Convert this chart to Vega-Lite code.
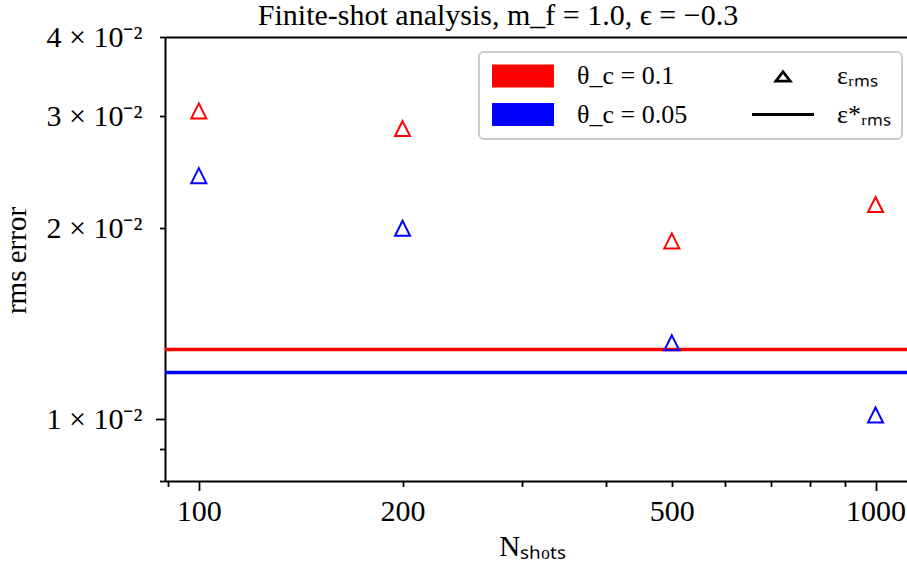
{
  "$schema": "https://vega.github.io/schema/vega-lite/v6.json",
  "width": 742,
  "height": 444,
  "autosize": {"type": "none"},
  "padding": {"left": 165, "top": 37, "right": 0, "bottom": 88},
  "background": "white",
  "title": {
    "text": "Finite-shot analysis, m_f = 1.0, ϵ = −0.3",
    "font": "Liberation Serif",
    "fontSize": 30,
    "fontWeight": "normal",
    "color": "black",
    "anchor": "middle",
    "frame": "group",
    "baseline": "alphabetic",
    "offset": -33,
    "dx": -38
  },
  "config": {
    "view": {"stroke": null},
    "font": "Liberation Serif",
    "axis": {
      "grid": false,
      "domainColor": "black",
      "domainWidth": 2,
      "tickColor": "black",
      "tickWidth": 1.8,
      "labelColor": "black",
      "labelFont": "Liberation Serif",
      "labelFontSize": 30,
      "labelFlush": false,
      "labelOverlap": false,
      "labelBound": false,
      "titleFont": "Liberation Serif",
      "titleFontSize": 29,
      "titleFontWeight": "normal",
      "titleColor": "black"
    },
    "legend": {
      "labelFont": "Liberation Serif",
      "labelFontSize": 26,
      "labelColor": "black",
      "labelLimit": 300
    }
  },
  "layer": [
    {
      "layer": [
        {
          "data": {
            "values": [
              {"theta": "θ_c = 0.1", "eps_star": 0.01289},
              {"theta": "θ_c = 0.05", "eps_star": 0.01186}
            ]
          },
          "mark": {"type": "rule", "strokeWidth": 3.5},
          "encoding": {
            "y": {
              "field": "eps_star",
              "type": "quantitative",
              "scale": {"type": "log", "domain": [0.008, 0.04], "nice": false},
              "axis": {
                "values": [0.008, 0.009, 0.01, 0.02, 0.03, 0.04],
                "labelExpr": "datum.value > 0.0095 ? format(datum.value * 100, '.0f') + ' × 10⁻²' : ''",
                "tickSize": {"condition": {"test": "datum.value == 0.01", "value": 9.5}, "value": 5.5},
                "labelPadding": {"condition": {"test": "datum.value == 0.01", "value": 13.5}, "value": 17.5},
                "title": "rms error",
                "titleX": -140,
                "titleY": 223,
                "titleAngle": 270,
                "titleAlign": "center",
                "titleBaseline": "alphabetic"
              }
            },
            "color": {
              "field": "theta",
              "type": "nominal",
              "scale": {"domain": ["θ_c = 0.1", "θ_c = 0.05"], "range": ["#ff0000", "#0000ff"]},
              "legend": null
            }
          }
        },
        {
          "data": {
            "values": [
              {"N": 100, "theta": "θ_c = 0.1", "eps": 0.0306},
              {"N": 200, "theta": "θ_c = 0.1", "eps": 0.0287},
              {"N": 500, "theta": "θ_c = 0.1", "eps": 0.0191},
              {"N": 1000, "theta": "θ_c = 0.1", "eps": 0.0218},
              {"N": 100, "theta": "θ_c = 0.05", "eps": 0.0242},
              {"N": 200, "theta": "θ_c = 0.05", "eps": 0.0200},
              {"N": 500, "theta": "θ_c = 0.05", "eps": 0.0132},
              {"N": 1000, "theta": "θ_c = 0.05", "eps": 0.01016}
            ]
          },
          "mark": {
            "type": "point",
            "shape": "M0,-1L1,1L-1,1Z",
            "size": 225,
            "filled": false,
            "strokeWidth": 2,
            "opacity": 1
          },
          "encoding": {
            "x": {
              "field": "N",
              "type": "quantitative",
              "scale": {"type": "log", "domain": [89.13, 1113], "nice": false},
              "axis": {
                "values": [90, 100, 200, 300, 400, 500, 600, 700, 800, 900, 1000],
                "labelExpr": "indexof([100, 200, 500, 1000], datum.value) >= 0 ? format(datum.value, 'd') : ''",
                "tickSize": {"condition": {"test": "datum.value == 100 || datum.value == 1000", "value": 9.5}, "value": 5.5},
                "labelPadding": {"condition": {"test": "datum.value == 100 || datum.value == 1000", "value": 6}, "value": 10},
                "title": "Nₛₕₒₜₛ",
                "titleX": 367,
                "titleY": 74,
                "titleAlign": "center",
                "titleBaseline": "alphabetic"
              }
            },
            "y": {"field": "eps", "type": "quantitative"},
            "color": {"field": "theta", "type": "nominal"}
          }
        }
      ]
    },
    {
      "data": {"values": []},
      "mark": {"type": "point", "filled": true, "opacity": 1, "strokeWidth": 0},
      "encoding": {
        "x": {
          "field": "N",
          "type": "quantitative",
          "scale": {"type": "log", "domain": [89.13, 1113], "nice": false},
          "axis": {"orient": "top", "ticks": false, "labels": false, "title": null, "domain": true}
        },
        "color": {
          "field": "key",
          "type": "nominal",
          "scale": {
            "domain": ["θ_c = 0.1", "θ_c = 0.05", "εᵣₘₛ", "ε*ᵣₘₛ"],
            "range": ["#ff0000", "#0000ff", "#000000", "#000000"]
          },
          "legend": {
            "orient": "none",
            "legendX": 314,
            "legendY": 15,
            "columns": 2,
            "columnPadding": 62,
            "rowPadding": 12.5,
            "symbolSize": 484,
            "labelOffset": 61,
            "labelFontSize": 26,
            "labelFont": "Liberation Serif",
            "labelColor": "black",
            "labelLimit": 300,
            "padding": 11,
            "strokeColor": "#cccccc",
            "cornerRadius": 5,
            "fillColor": "white",
            "title": null,
            "symbolStrokeWidth": 0,
            "symbolOpacity": 1,
            "encode": {
              "legend": {"update": {"strokeWidth": {"value": 2}}},
              "labels": {"update": {"font": {"value": "Liberation Serif"}, "fontSize": {"value": 26}, "fill": {"value": "black"}}}
            }
          }
        },
        "shape": {
          "field": "key",
          "type": "nominal",
          "scale": {
            "domain": ["θ_c = 0.1", "θ_c = 0.05", "εᵣₘₛ", "ε*ᵣₘₛ"],
            "range": [
              "M-1,-1.05H4.64V1.05H-1Z",
              "M-1,-1.05H4.64V1.05H-1Z",
              "M1.82,-0.59L2.73,0.59L0.91,0.59ZM1.82,-0.18L1.42,0.34L2.22,0.34Z",
              "M-1,-0.14H4.64V0.14H-1Z"
            ]
          },
          "legend": {
            "orient": "none",
            "legendX": 314,
            "legendY": 15,
            "columns": 2,
            "columnPadding": 62,
            "rowPadding": 12.5,
            "symbolSize": 484,
            "labelOffset": 61,
            "labelFontSize": 26,
            "labelFont": "Liberation Serif",
            "labelColor": "black",
            "labelLimit": 300,
            "padding": 11,
            "strokeColor": "#cccccc",
            "cornerRadius": 5,
            "fillColor": "white",
            "title": null,
            "symbolStrokeWidth": 0,
            "symbolOpacity": 1,
            "encode": {
              "legend": {"update": {"strokeWidth": {"value": 2}}},
              "labels": {"update": {"font": {"value": "Liberation Serif"}, "fontSize": {"value": 26}, "fill": {"value": "black"}}}
            }
          }
        }
      }
    }
  ],
  "resolve": {
    "scale": {"color": "independent", "shape": "independent"},
    "axis": {"x": "independent"}
  }
}
